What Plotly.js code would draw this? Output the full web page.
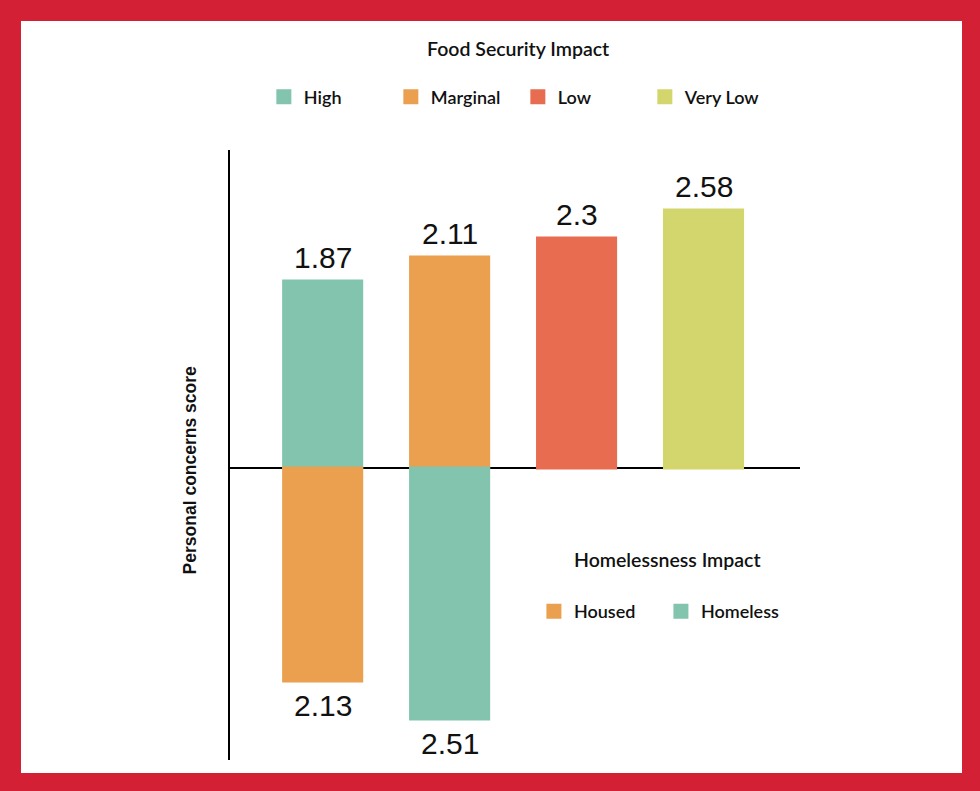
<!DOCTYPE html>
<html>
<head>
<meta charset="utf-8">
<script src="https://cdn.plot.ly/plotly-3.0.1.min.js"></script>
<style>
  html, body { margin: 0; padding: 0; background: #fff; }
  #wrap { position: relative; width: 980px; height: 791px; }
  #chart { position: absolute; left: 0; top: 0; width: 980px; height: 791px; }
  #frame { position: absolute; left: 0; top: 0; width: 980px; height: 791px; box-sizing: border-box;
           border-style: solid; border-color: #D42035; border-width: 21px 18px 18px 21px; pointer-events: none; }
</style>
</head>
<body>
<div id="wrap">
  <div id="chart"></div>
  <div id="frame"></div>
</div>
<script>
// Food security impact (bars above the axis)
const foodCategories = ["High", "Marginal", "Low", "Very Low"];
const foodValues = [1.87, 2.11, 2.3, 2.58];
const foodPositions = [0, 1, 2, 3];
const foodColors = ["#82C4AD", "#EAA04F", "#E86D50", "#D3D56D"];

// Homelessness impact (bars below the axis)
const homeCategories = ["Housed", "Homeless"];
const homeValues = [2.13, 2.51];
const homePositions = [0, 1];
const homeColors = ["#EAA04F", "#82C4AD"];

const yAxisTitle = "Personal concerns score";
const foodLegendTitle = "Food Security Impact";
const homeLegendTitle = "Homelessness Impact";

const textFamily = "Lato, 'Open Sans', sans-serif";
const legendFont = { family: textFamily, size: 18, color: "#111", weight: 600 };
const titleFont = { family: textFamily, size: 19.5, color: "#111", weight: 600 };
const valueFont = { family: "'Liberation Sans', Arial, sans-serif", size: 30, color: "#111" };

const traces = [];
const annotations = [];

foodCategories.forEach((name, i) => {
  traces.push({
    type: "bar", name: name, x: [foodPositions[i]], y: [foodValues[i]],
    width: 0.615, marker: { color: foodColors[i], line: { width: 3, color: foodColors[i] } },
    legend: "legend", hoverinfo: "name+y"
  });
  annotations.push({
    x: foodPositions[i], y: foodValues[i], xref: "x", yref: "y",
    text: String(foodValues[i]), showarrow: false, yanchor: "bottom", yshift: 5,
    font: valueFont
  });
});

homeCategories.forEach((name, i) => {
  traces.push({
    type: "bar", name: name, x: [homePositions[i]], y: [-homeValues[i]],
    width: 0.615, marker: { color: homeColors[i], line: { width: 3, color: homeColors[i] } },
    legend: "legend2", hoverinfo: "name+text", text: [String(homeValues[i])], textposition: "none"
  });
  annotations.push({
    x: homePositions[i], y: -homeValues[i], xref: "x", yref: "y",
    text: String(homeValues[i]), showarrow: false, yanchor: "top", yshift: -6,
    font: valueFont
  });
});

annotations.push({
  x: 0.505, y: 1.167, xref: "paper", yref: "paper", text: foodLegendTitle,
  showarrow: false, xanchor: "center", yanchor: "middle", font: titleFont
});
annotations.push({
  x: 0.768, y: 0.3295, xref: "paper", yref: "paper", text: homeLegendTitle,
  showarrow: false, xanchor: "center", yanchor: "middle", font: titleFont
});
// y-axis title
annotations.push({
  x: -0.071, y: 0.474, xref: "paper", yref: "paper", text: yAxisTitle, textangle: -90,
  showarrow: false, xanchor: "center", yanchor: "middle",
  font: { family: "'Liberation Sans', Arial, sans-serif", size: 17.5, color: "#111", weight: 700 }
});

const layout = {
  width: 980, height: 791,
  margin: { l: 230, r: 180, t: 150, b: 31, pad: 0 },
  paper_bgcolor: "#fff", plot_bgcolor: "#fff",
  barmode: "overlay",
  showlegend: true,
  xaxis: {
    range: [-0.73, 3.76], showgrid: false, zeroline: false, showline: false,
    showticklabels: false, ticks: "", fixedrange: true
  },
  yaxis: {
    range: [-2.92, 3.18], showgrid: false, zeroline: true, zerolinecolor: "#000", zerolinewidth: 2,
    showline: true, linecolor: "#000", linewidth: 2, showticklabels: false, ticks: "",
    automargin: false, fixedrange: true
  },
  legend: {
    orientation: "h", x: 0.505, xanchor: "center", y: 1.117, yanchor: "top",
    font: legendFont, bgcolor: "rgba(0,0,0,0)", traceorder: "normal",
    entrywidth: 82, entrywidthmode: "pixels"
  },
  legend2: {
    orientation: "h", x: 0.756, xanchor: "center", y: 0.2735, yanchor: "top",
    font: legendFont, bgcolor: "rgba(0,0,0,0)", traceorder: "normal",
    entrywidth: 82, entrywidthmode: "pixels"
  },
  annotations: annotations
};

Plotly.newPlot("chart", traces, layout, { displayModeBar: false, staticPlot: true });
</script>
</body>
</html>
